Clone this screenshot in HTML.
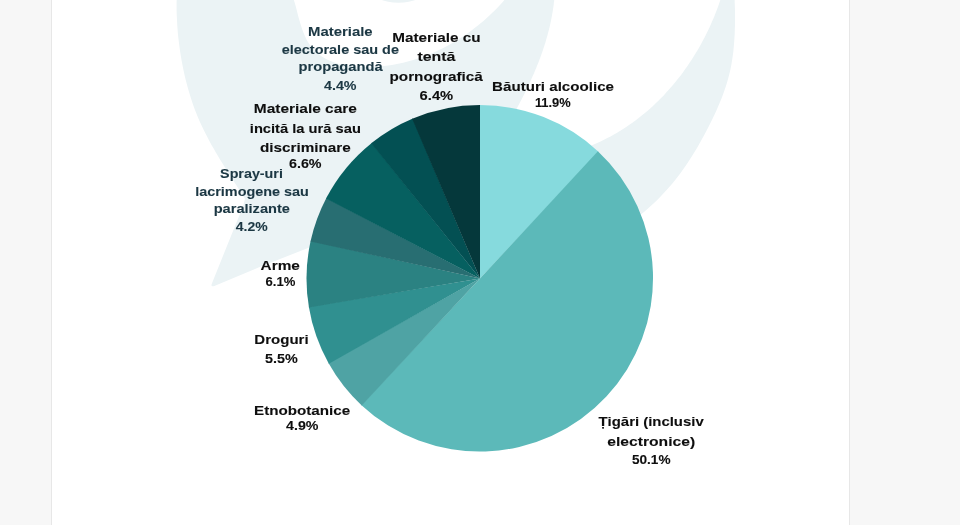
<!DOCTYPE html>
<html lang="ro">
<head>
<meta charset="utf-8">
<title>Grafic</title>
<style>
html,body{margin:0;padding:0;}
html,body{width:960px;height:525px;overflow:hidden;background:#f7f7f7;}
.page{position:relative;width:960px;height:525px;overflow:hidden;background:#f7f7f7;font-family:"Liberation Sans",sans-serif;}
.panel{position:absolute;left:51px;top:-2px;width:797px;height:529px;background:#fff;border-left:1px solid #e7e7e7;border-right:1px solid #e7e7e7;}
svg{position:absolute;left:-20px;top:-20px;filter:blur(0.55px);}
svg text{font-family:"Liberation Sans",sans-serif;font-weight:bold;font-size:13.1px;stroke-width:0.1px;paint-order:stroke;}
</style>
</head>
<body>
<div class="page">
<div class="panel"></div>
<svg width="1000" height="565" viewBox="-20 -20 1000 565">
<g>
<path d="M177.5 -16.9 L177.2 -13.0 L177.0 -9.2 L176.8 -5.3 L176.7 -1.4 L176.6 2.5 L176.6 6.4 L176.6 10.3 L176.7 14.2 L176.9 18.1 L177.1 22.0 L177.3 25.9 L177.6 29.8 L177.9 33.7 L178.3 37.6 L178.8 41.5 L179.3 45.4 L179.8 49.3 L180.4 53.2 L181.0 57.1 L181.7 61.0 L182.4 64.8 L183.2 68.7 L184.0 72.5 L184.9 76.4 L185.8 80.2 L186.8 84.0 L187.8 87.8 L188.9 91.6 L190.0 95.3 L191.2 99.1 L192.4 102.8 L193.7 106.5 L195.1 110.2 L196.5 113.8 L198.0 117.4 L199.5 121.0 L201.1 124.6 L202.8 128.1 L204.5 131.6 L206.3 135.1 L208.1 138.6 L209.9 142.0 L211.8 145.4 L213.8 148.8 L215.7 152.2 L217.7 155.6 L219.7 159.0 L221.8 162.3 L223.9 165.7 L225.9 169.0 L228.0 172.3 L230.2 175.6 L232.3 178.9 L234.4 182.2 L236.5 185.5 L238.6 188.8 L240.7 192.1 L242.8 195.4 L244.9 198.8 L243.2 206.0 L231.4 235.0 L212.0 283.2 Q210.2 287.4 214.4 285.9 L260.3 266.8 L308.0 248.0 L345.0 233.5 L480.0 278.0 L640.8 214.5 L644.3 211.7 L647.7 208.8 L651.0 205.8 L654.3 202.8 L657.5 199.7 L660.6 196.5 L663.6 193.3 L666.6 190.1 L669.5 186.7 L672.4 183.4 L675.2 179.9 L677.9 176.4 L680.6 172.9 L683.2 169.3 L685.7 165.7 L688.2 162.0 L690.6 158.3 L693.0 154.5 L695.3 150.7 L697.6 146.9 L699.8 143.0 L702.0 139.1 L704.1 135.2 L706.2 131.2 L708.3 127.3 L710.3 123.3 L712.3 119.3 L714.2 115.2 L716.1 111.2 L717.9 107.1 L719.6 103.1 L721.3 98.9 L722.9 94.8 L724.4 90.6 L725.8 86.4 L727.1 82.2 L728.3 78.0 L729.4 73.7 L730.4 69.4 L731.3 65.0 L732.0 60.7 L732.7 56.3 L733.3 51.9 L733.7 47.4 L734.1 43.0 L734.4 38.5 L734.7 34.1 L734.8 29.6 L735.0 25.1 L735.0 20.6 L735.0 16.2 L735.0 11.7 L734.9 7.2 L734.7 2.8 L734.6 -1.7 L734.4 -6.1 L734.2 -10.5 L734.0 -14.9 L733.7 -19.3 Z" fill="#ebf3f5"/>
<path d="M288.1 -12.7 L289.7 -10.0 L291.1 -7.1 L292.4 -4.0 L293.6 -0.7 L294.7 2.7 L295.7 6.3 L296.7 9.9 L297.6 13.7 L298.6 17.4 L299.7 21.2 L300.8 25.0 L302.0 28.7 L303.4 32.4 L304.9 35.9 L306.5 39.4 L308.4 42.7 L310.5 45.8 L312.8 48.7 L315.4 51.3 L318.2 53.8 L321.1 56.0 L324.3 58.0 L327.6 59.7 L331.1 61.2 L334.6 62.6 L338.2 63.7 L341.9 64.6 L345.7 65.4 L349.5 66.0 L353.3 66.5 L357.2 66.8 L361.1 67.0 L365.0 67.0 L368.9 67.0 L372.8 66.9 L376.7 66.7 L380.5 66.3 L384.3 65.9 L388.1 65.5 L391.9 64.9 L395.7 64.2 L399.4 63.5 L403.1 62.7 L406.8 61.8 L410.5 60.8 L414.1 59.7 L417.8 58.6 L421.4 57.3 L424.9 56.1 L428.5 54.7 L432.0 53.2 L435.4 51.7 L438.9 50.1 L442.3 48.4 L445.7 46.7 L449.0 44.9 L452.4 43.0 L455.7 41.1 L458.9 39.1 L462.1 37.0 L465.3 34.9 L468.4 32.7 L471.5 30.4 L474.6 28.1 L477.6 25.8 L480.6 23.3 L483.5 20.9 L486.4 18.3 L489.2 15.8 L492.0 13.1 L494.7 10.5 L497.4 7.7 L500.0 5.0 L502.5 2.2 L505.0 -0.7 L507.5 -3.6 L509.9 -6.5 L512.2 -9.5 L514.4 -12.5 Z" fill="#fff"/>
<circle cx="398.5" cy="-50" r="52.7" fill="#ebf3f5"/>
<path d="M555.0 -11.1 L554.9 -8.8 L554.8 -6.5 L554.6 -4.3 L554.4 -2.0 L554.2 0.2 L553.9 2.5 L553.7 4.7 L553.4 6.9 L553.0 9.2 L552.7 11.4 L552.3 13.6 L551.9 15.9 L551.5 18.1 L551.1 20.3 L550.6 22.5 L550.1 24.7 L549.6 26.9 L549.1 29.1 L548.5 31.3 L547.9 33.5 L547.4 35.6 L546.7 37.8 L546.1 40.0 L545.5 42.2 L544.8 44.3 L544.1 46.5 L543.4 48.6 L542.7 50.8 L541.9 52.9 L541.2 55.0 L540.4 57.2 L539.6 59.3 L538.8 61.4 L538.0 63.5 L537.1 65.6 L536.3 67.7 L535.4 69.8 L534.5 71.9 L533.7 74.0 L532.7 76.0 L531.8 78.1 L530.9 80.2 L530.0 82.2 L529.0 84.3 L528.0 86.3 L527.1 88.4 L526.1 90.4 L525.1 92.4 L524.1 94.4 L523.0 96.4 L522.0 98.4 L521.0 100.4 L519.9 102.4 L518.9 104.4 L517.8 106.4 L516.8 108.4 L515.7 110.3 L514.6 112.3 L513.5 114.2 L540.0 180.0 L586.7 147.3 L590.2 145.9 L593.7 144.5 L597.2 143.0 L600.6 141.4 L604.0 139.8 L607.3 138.1 L610.6 136.4 L613.9 134.5 L617.1 132.7 L620.3 130.7 L623.5 128.8 L626.6 126.7 L629.7 124.6 L632.8 122.4 L635.8 120.2 L638.7 118.0 L641.7 115.6 L644.6 113.3 L647.4 110.9 L650.2 108.4 L653.0 105.9 L655.7 103.3 L658.4 100.7 L661.1 98.1 L663.7 95.4 L666.2 92.6 L668.7 89.8 L671.2 87.0 L673.6 84.2 L676.0 81.3 L678.4 78.3 L680.7 75.4 L682.9 72.4 L685.1 69.3 L687.3 66.2 L689.4 63.1 L691.5 60.0 L693.5 56.8 L695.5 53.6 L697.4 50.4 L699.3 47.2 L701.1 43.9 L702.9 40.6 L704.7 37.3 L706.3 33.9 L708.0 30.6 L709.6 27.2 L711.1 23.8 L712.6 20.3 L714.1 16.9 L715.4 13.4 L716.8 9.9 L718.1 6.5 L719.3 3.0 L720.5 -0.6 L721.6 -4.1 L722.7 -7.6 L723.7 -11.2 L724.7 -14.7 Z" fill="#fff"/>
</g>
<g>
<path d="M480.00 278.50 L480.00 105.00 A173.50 173.50 0 0 1 598.43 151.71 Z" fill="#86dadd"/>
<path d="M480.00 278.50 L597.88 151.19 A173.50 173.50 0 1 1 361.17 404.92 Z" fill="#5cb9b9"/>
<path d="M480.00 278.50 L361.72 405.44 A173.50 173.50 0 0 1 328.48 363.01 Z" fill="#4fa3a4"/>
<path d="M480.00 278.50 L328.85 363.67 A173.50 173.50 0 0 1 308.82 306.75 Z" fill="#309090"/>
<path d="M480.00 278.50 L308.94 307.50 A173.50 173.50 0 0 1 310.66 240.75 Z" fill="#2b8282"/>
<path d="M480.00 278.50 L310.49 241.49 A173.50 173.50 0 0 1 326.35 197.92 Z" fill="#286e72"/>
<path d="M480.00 278.50 L326.00 198.59 A173.50 173.50 0 0 1 371.78 142.89 Z" fill="#066060"/>
<path d="M480.00 278.50 L371.19 143.36 A173.50 173.50 0 0 1 412.86 118.52 Z" fill="#035053"/>
<path d="M480.00 278.50 L412.16 118.81 A173.50 173.50 0 0 1 480.00 105.00 Z" fill="#05383b"/>
</g>
<g>
<text x="308.0" y="35.7" textLength="64.6" lengthAdjust="spacingAndGlyphs" fill="#1b3743" stroke="#1b3743">Materiale</text>
<text x="281.7" y="53.5" textLength="117.3" lengthAdjust="spacingAndGlyphs" fill="#1b3743" stroke="#1b3743">electorale sau de</text>
<text x="298.5" y="71.4" textLength="84.1" lengthAdjust="spacingAndGlyphs" fill="#1b3743" stroke="#1b3743">propagandă</text>
<text x="324.0" y="90.2" textLength="32.5" lengthAdjust="spacingAndGlyphs" fill="#1b3743" stroke="#1b3743" stroke-width="0.3">4.4%</text>
<text x="392.3" y="41.5" textLength="88.3" lengthAdjust="spacingAndGlyphs" fill="#0e0e0e" stroke="#0e0e0e">Materiale cu</text>
<text x="417.4" y="60.6" textLength="38.0" lengthAdjust="spacingAndGlyphs" fill="#0e0e0e" stroke="#0e0e0e">tentă</text>
<text x="389.5" y="81.3" textLength="93.3" lengthAdjust="spacingAndGlyphs" fill="#0e0e0e" stroke="#0e0e0e">pornografică</text>
<text x="419.6" y="99.6" textLength="33.6" lengthAdjust="spacingAndGlyphs" fill="#0e0e0e" stroke="#0e0e0e" stroke-width="0.3">6.4%</text>
<text x="492.1" y="90.7" textLength="121.9" lengthAdjust="spacingAndGlyphs" fill="#0e0e0e" stroke="#0e0e0e">Băuturi alcoolice</text>
<text x="534.9" y="106.6" textLength="35.8" lengthAdjust="spacingAndGlyphs" fill="#0e0e0e" stroke="#0e0e0e" stroke-width="0.3">11.9%</text>
<text x="253.8" y="112.5" textLength="103.1" lengthAdjust="spacingAndGlyphs" fill="#0e0e0e" stroke="#0e0e0e">Materiale care</text>
<text x="249.8" y="132.6" textLength="111.1" lengthAdjust="spacingAndGlyphs" fill="#0e0e0e" stroke="#0e0e0e">incită la ură sau</text>
<text x="259.9" y="152.3" textLength="90.9" lengthAdjust="spacingAndGlyphs" fill="#0e0e0e" stroke="#0e0e0e">discriminare</text>
<text x="289.0" y="167.6" textLength="32.6" lengthAdjust="spacingAndGlyphs" fill="#0e0e0e" stroke="#0e0e0e" stroke-width="0.3">6.6%</text>
<text x="220.1" y="177.6" textLength="62.8" lengthAdjust="spacingAndGlyphs" fill="#1b3743" stroke="#1b3743">Spray-uri</text>
<text x="195.2" y="195.5" textLength="113.7" lengthAdjust="spacingAndGlyphs" fill="#1b3743" stroke="#1b3743">lacrimogene sau</text>
<text x="213.7" y="213.2" textLength="76.2" lengthAdjust="spacingAndGlyphs" fill="#1b3743" stroke="#1b3743">paralizante</text>
<text x="235.8" y="231.2" textLength="31.9" lengthAdjust="spacingAndGlyphs" fill="#1b3743" stroke="#1b3743" stroke-width="0.3">4.2%</text>
<text x="260.6" y="269.9" textLength="39.3" lengthAdjust="spacingAndGlyphs" fill="#0e0e0e" stroke="#0e0e0e">Arme</text>
<text x="265.5" y="285.5" textLength="29.8" lengthAdjust="spacingAndGlyphs" fill="#0e0e0e" stroke="#0e0e0e" stroke-width="0.3">6.1%</text>
<text x="254.3" y="343.6" textLength="54.3" lengthAdjust="spacingAndGlyphs" fill="#0e0e0e" stroke="#0e0e0e">Droguri</text>
<text x="265.0" y="362.7" textLength="32.8" lengthAdjust="spacingAndGlyphs" fill="#0e0e0e" stroke="#0e0e0e" stroke-width="0.3">5.5%</text>
<text x="254.0" y="414.7" textLength="96.2" lengthAdjust="spacingAndGlyphs" fill="#0e0e0e" stroke="#0e0e0e">Etnobotanice</text>
<text x="286.1" y="430.4" textLength="32.4" lengthAdjust="spacingAndGlyphs" fill="#0e0e0e" stroke="#0e0e0e" stroke-width="0.3">4.9%</text>
<text x="598.5" y="426.0" textLength="105.2" lengthAdjust="spacingAndGlyphs" fill="#0e0e0e" stroke="#0e0e0e">Țigări (inclusiv</text>
<text x="607.2" y="445.5" textLength="88.0" lengthAdjust="spacingAndGlyphs" fill="#0e0e0e" stroke="#0e0e0e">electronice)</text>
<text x="631.9" y="463.7" textLength="38.6" lengthAdjust="spacingAndGlyphs" fill="#0e0e0e" stroke="#0e0e0e" stroke-width="0.3">50.1%</text>
</g>
</svg>
</div>
</body>
</html>
